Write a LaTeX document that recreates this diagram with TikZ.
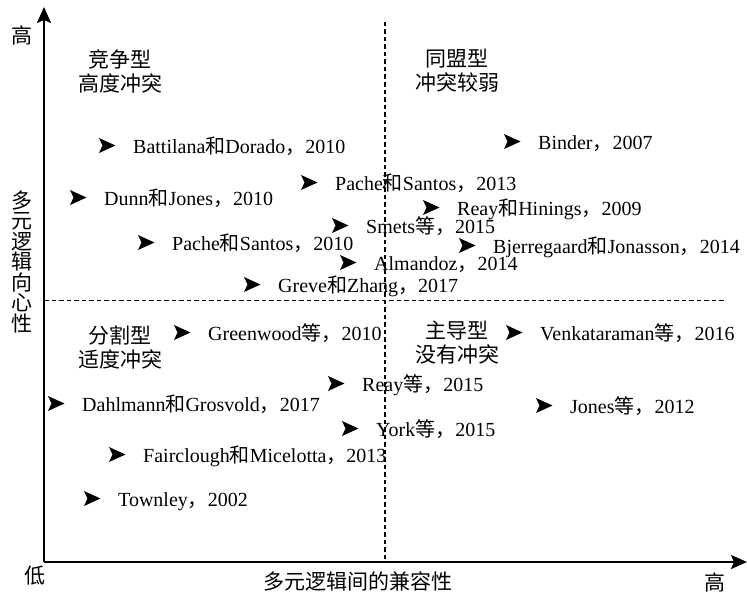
\documentclass[tikz,border=0pt]{standalone}
\usepackage{fontspec}
\setmainfont{Liberation Serif}
\newfontfamily\cjk{Noto Sans CJK SC}
\usetikzlibrary{arrows.meta}
\newcommand\C[1]{{\cjk #1}}
\tikzset{
  axisline/.style={line width=1.8pt, -{Stealth[length=16pt,width=14pt,inset=3pt]}},
  divider/.style={line width=1.3pt, dash pattern=on 4.5pt off 3pt},
  entry/.style={anchor=base west, inner sep=0pt, font=\fontsize{20}{22}\selectfont},
  qlabel/.style={align=center, inner sep=0pt, font=\cjk\fontsize{21}{24}\selectfont},
  axlabel/.style={inner sep=0pt, font=\cjk\fontsize{21}{21}\selectfont}
}
\newcommand\entry[4]{%
  \node[entry] (#1) at (#2,#3) {#4};
  \fill ([shift={(-34pt,15pt)}]#1.base west) -- ([shift={(-17.5pt,7.5pt)}]#1.base west)
        -- ([shift={(-34pt,0pt)}]#1.base west) -- ([shift={(-30.5pt,7.5pt)}]#1.base west) -- cycle;
}
\begin{document}
\begin{tikzpicture}[x=1pt,y=-1pt]
\useasboundingbox (0,0) rectangle (747,594);
% axes
\coordinate (O) at (44,562);
\coordinate (ytop) at (44,7);
\coordinate (xend) at (747,562);
\draw[axisline] (O) -- (ytop);
\draw[axisline] (O) -- (xend);
% dividers
\coordinate (vtop) at (385,22);
\coordinate (vbot) at (385,562);
\coordinate (hl) at (44,300.5);
\coordinate (hr) at (725,300.5);
\draw[divider] (vtop) -- (vbot);
\draw[divider] (hl) -- (hr);
% axis labels
\node[axlabel] (yhigh) at (22,35) {高};
\node[axlabel, align=center, font=\cjk\fontsize{21}{20.5}\selectfont] (ylab) at (22,261.5) {多\\元\\逻\\辑\\向\\心\\性};
\node[axlabel] (low) at (35,576) {低};
\node[axlabel] (xlab) at (358,581) {多元逻辑间的兼容性};
\node[axlabel] (xhigh) at (715,582) {高};
% quadrant labels
\node[qlabel] (q1) at (120,71) {竞争型\\高度冲突};
\node[qlabel] (q2) at (457,71) {同盟型\\冲突较弱};
\node[qlabel] (q3) at (120,347) {分割型\\适度冲突};
\node[qlabel] (q4) at (457,343) {主导型\\没有冲突};
% entries
\entry{e1}{133}{153}{Battilana\C{和}Dorado\C{，}2010}
\entry{e2}{104}{205}{Dunn\C{和}Jones\C{，}2010}
\entry{e3}{172}{250}{Pache\C{和}Santos\C{，}2010}
\entry{e4}{278}{292}{Greve\C{和}Zhang\C{，}2017}
\entry{e5}{335}{190}{Pache\C{和}Santos\C{，}2013}
\entry{e6}{366}{233}{Smets\C{等，}2015}
\entry{e7}{374}{270}{Almandoz\C{，}2014}
\entry{e8}{538}{149}{Binder\C{，}2007}
\entry{e9}{457}{215}{Reay\C{和}Hinings\C{，}2009}
\entry{e10}{493}{253}{Bjerregaard\C{和}Jonasson\C{，}2014}
\entry{e11}{208}{340}{Greenwood\C{等，}2010}
\entry{e12}{540}{340}{Venkataraman\C{等，}2016}
\entry{e13}{362}{391}{Reay\C{等，}2015}
\entry{e14}{82}{411}{Dahlmann\C{和}Grosvold\C{，}2017}
\entry{e15}{570}{413}{Jones\C{等，}2012}
\entry{e16}{376}{436}{York\C{等，}2015}
\entry{e17}{143}{462}{Fairclough\C{和}Micelotta\C{，}2013}
\entry{e18}{118}{506}{Townley\C{，}2002}
\end{tikzpicture}
\end{document}
